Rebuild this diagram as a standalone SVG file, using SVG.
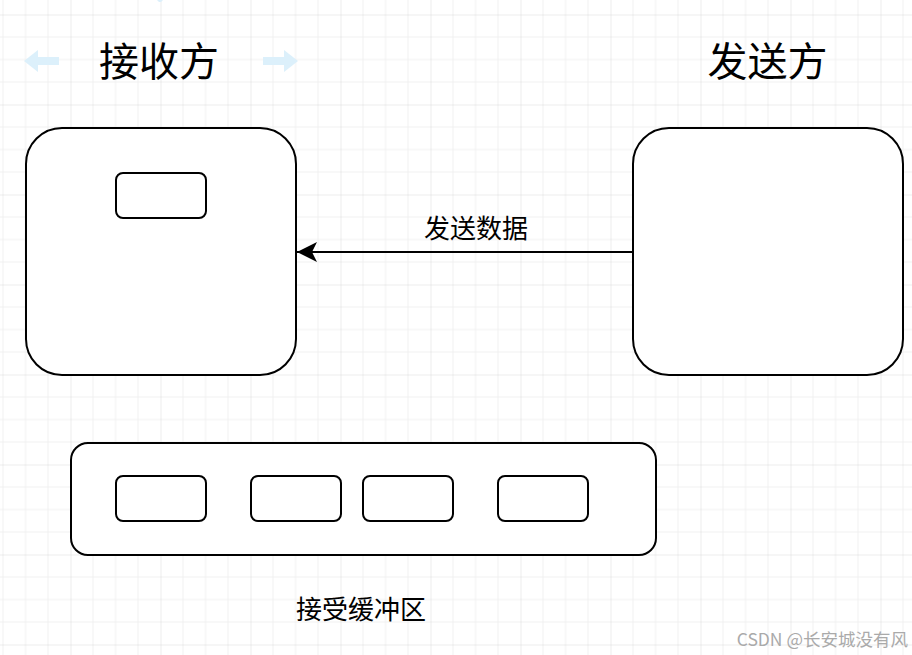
<svg xmlns="http://www.w3.org/2000/svg" width="912" height="655" viewBox="0 0 912 655">
<defs>
<pattern id="grid" patternUnits="userSpaceOnUse" x="70.5" y="14.5" width="90" height="90">
<path d="M22.5,0V90M45,0V90M67.5,0V90M0,22.5H90M0,45H90M0,67.5H90" stroke="#f0f0f0" stroke-width="1" fill="none"/>
<path d="M0,0V90M0,0H90" stroke="#d9d9d9" stroke-width="1" fill="none"/>
</pattern>
<marker id="arr" markerUnits="userSpaceOnUse" markerWidth="24" markerHeight="24" viewBox="0 0 24 24" refX="22" refY="12" orient="auto">
<path d="M22,12 L2,2 L7,12 L2,22 Z" fill="#000"/>
</marker>
</defs>
<style>
.box{fill:#fff;stroke:#000;stroke-width:2}
.t{font-family:"Noto Sans CJK SC","Noto Sans",sans-serif;fill:#000;text-anchor:middle}
.title{font-size:40px}
.lbl{font-size:26px}
.hint{fill:#dcf0fb}
</style>
<rect width="912" height="655" fill="#fff"/>
<rect width="912" height="655" fill="url(#grid)"/>

<g id="hints">
<path class="hint" d="M24,61 L38,50 L38,57 L59,57 L59,65 L38,65 L38,72 Z"/>
<path class="hint" d="M298,61 L284,50 L284,57 L263,57 L263,65 L284,65 L284,72 Z"/>
<path class="hint" d="M157,0 L163,0 L161,2 L159,2 Z"/>
</g>

<g id="title-receiver"><text class="t title" x="159" y="76">接收方</text></g>
<g id="title-sender"><text class="t title" x="767.5" y="76">发送方</text></g>

<g id="receiver">
<rect class="box" x="26" y="128" width="270" height="247" rx="36" ry="36"/>
</g>
<g id="receiver-slot">
<rect class="box" x="116" y="173" width="90" height="45" rx="7" ry="7"/>
</g>
<g id="sender">
<rect class="box" x="633" y="128" width="270" height="247" rx="36" ry="36"/>
</g>

<g id="connectors">
<line x1="633" y1="252" x2="297" y2="252" stroke="#000" stroke-width="2" marker-end="url(#arr)"/>
<text class="t lbl" x="476" y="238">发送数据</text>
</g>

<g id="buffer">
<rect class="box" x="71" y="443" width="585" height="112" rx="17" ry="17"/>
</g>
<g id="buf1"><rect class="box" x="116" y="476" width="90" height="45" rx="7" ry="7"/></g>
<g id="buf2"><rect class="box" x="251" y="476" width="90" height="45" rx="7" ry="7"/></g>
<g id="buf3"><rect class="box" x="363" y="476" width="90" height="45" rx="7" ry="7"/></g>
<g id="buf4"><rect class="box" x="498" y="476" width="90" height="45" rx="7" ry="7"/></g>
<g id="buffer-label"><text class="t lbl" x="361" y="619">接受缓冲区</text></g>

<g id="watermark"><text x="908" y="646" font-family="Noto Sans CJK SC, sans-serif" font-size="17.5" fill="#aaaaaa" text-anchor="end">CSDN @长安城没有风</text></g>
</svg>
